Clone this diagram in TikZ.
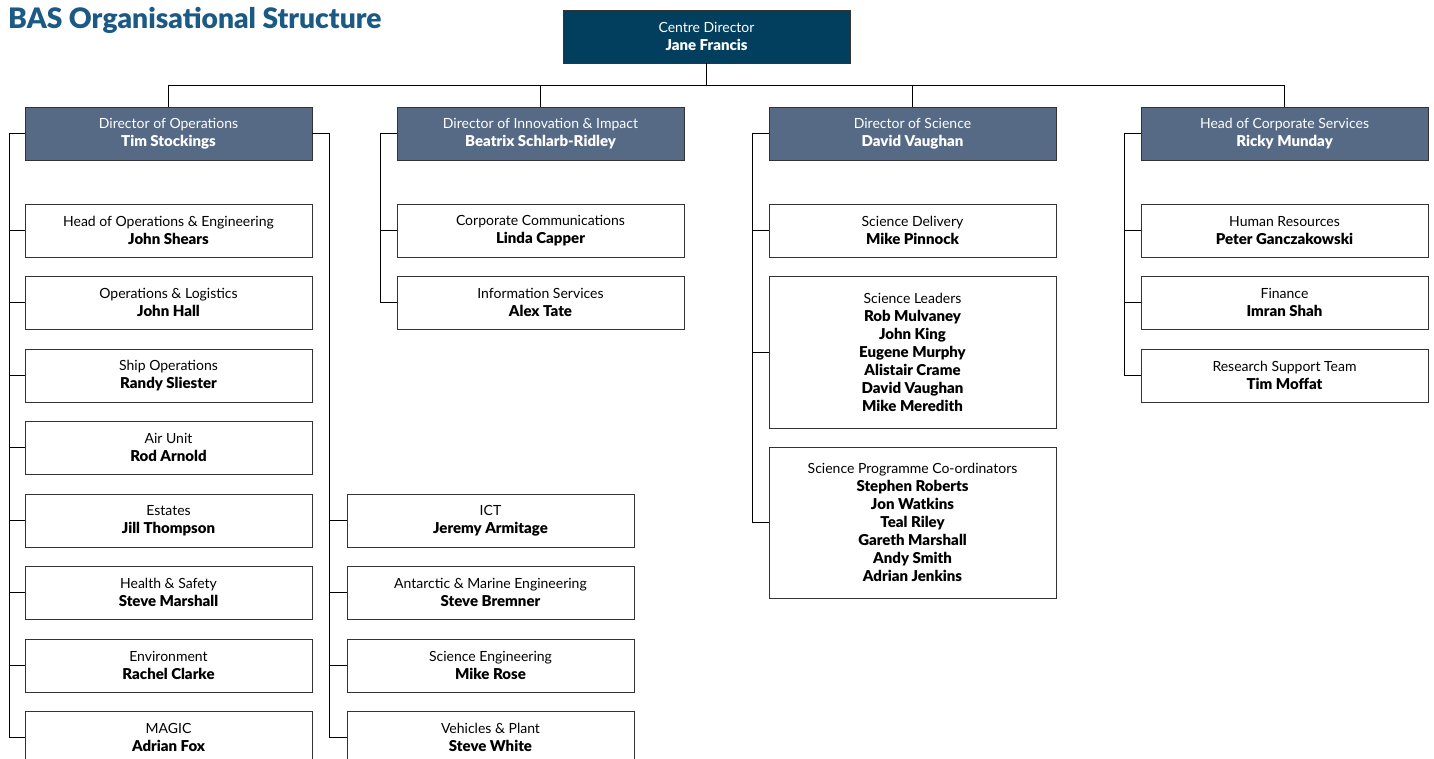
\documentclass[tikz,border=0pt]{standalone}
\usepackage{fontspec}
\setmainfont{Lato}[BoldFont={Lato Black}]
\definecolor{titleblue}{HTML}{1B5A84}
\definecolor{topfill}{HTML}{023F5F}
\definecolor{dirfill}{HTML}{566A86}
\definecolor{boxline}{HTML}{333333}
\newcommand{\nm}[1]{{\fontsize{15}{18}\bfseries\selectfont #1}}
\begin{document}
\begin{tikzpicture}[x=1pt,y=-1pt,
  base/.style={rectangle, draw=boxline, line width=0.9pt, minimum width=287pt, inner sep=0pt, align=center,
    font=\fontsize{14}{18}\selectfont},
  topbox/.style={base, fill=topfill, text=white, minimum height=53pt},
  dirbox/.style={base, fill=dirfill, text=white, minimum height=53pt},
  unit/.style={base, fill=white, text=black, minimum height=53pt},
  conn/.style={draw=black, line width=0.9pt}]
\useasboundingbox (0,0) rectangle (1434,758);
\node[anchor=north west, inner sep=0pt, text=titleblue, font=\fontsize{28.2}{30}\bfseries\selectfont] (title) at (8,7) {BAS Organisational Structure};

\node[topbox] (cd) at (706.5,36.5) {Centre Director\\\nm{Jane Francis}};

\node[dirbox] (ops) at (168.5,133.5) {Director of Operations\\\nm{Tim Stockings}};
\node[dirbox] (inn) at (540.5,133.5) {Director of Innovation \& Impact\\\nm{Beatrix Schlarb-Ridley}};
\node[dirbox] (sci) at (912.5,133.5) {Director of Science\\\nm{David Vaughan}};
\node[dirbox] (corp) at (1284.5,133.5) {Head of Corporate Services\\\nm{Ricky Munday}};

% Operations left column
\node[unit] (o1) at (168.5,230.5) {Head of Operations \& Engineering\\\nm{John Shears}};
\node[unit] (o2) at (168.5,302.5) {Operations \& Logistics\\\nm{John Hall}};
\node[unit] (o3) at (168.5,375.5) {Ship Operations\\\nm{Randy Sliester}};
\node[unit] (o4) at (168.5,447.5) {Air Unit\\\nm{Rod Arnold}};
\node[unit] (o5) at (168.5,520.5) {Estates\\\nm{Jill Thompson}};
\node[unit] (o6) at (168.5,592.5) {Health \& Safety\\\nm{Steve Marshall}};
\node[unit] (o7) at (168.5,665.5) {Environment\\\nm{Rachel Clarke}};
\node[unit] (o8) at (168.5,737.5) {MAGIC\\\nm{Adrian Fox}};

% Operations right column
\node[unit] (p1) at (490.5,520.5) {ICT\\\nm{Jeremy Armitage}};
\node[unit] (p2) at (490.5,592.5) {Antarctic \& Marine Engineering\\\nm{Steve Bremner}};
\node[unit] (p3) at (490.5,665.5) {Science Engineering\\\nm{Mike Rose}};
\node[unit] (p4) at (490.5,737.5) {Vehicles \& Plant\\\nm{Steve White}};

% Innovation
\node[unit] (i1) at (540.5,230.5) {Corporate Communications\\\nm{Linda Capper}};
\node[unit] (i2) at (540.5,302.5) {Information Services\\\nm{Alex Tate}};

% Science
\node[unit] (s1) at (912.5,230.5) {Science Delivery\\\nm{Mike Pinnock}};
\node[unit, minimum height=152pt] (s2) at (912.5,352) {Science Leaders\\\nm{Rob Mulvaney}\\\nm{John King}\\\nm{Eugene Murphy}\\\nm{Alistair Crame}\\\nm{David Vaughan}\\\nm{Mike Meredith}};
\node[unit, minimum height=151pt] (s3) at (912.5,522.5) {Science Programme Co-ordinators\\\nm{Stephen Roberts}\\\nm{Jon Watkins}\\\nm{Teal Riley}\\\nm{Gareth Marshall}\\\nm{Andy Smith}\\\nm{Adrian Jenkins}};

% Corporate
\node[unit] (c1) at (1284.5,230.5) {Human Resources\\\nm{Peter Ganczakowski}};
\node[unit] (c2) at (1284.5,302.5) {Finance\\\nm{Imran Shah}};
\node[unit] (c3) at (1284.5,375.5) {Research Support Team\\\nm{Tim Moffat}};

% Top-level connectors
\coordinate (hb) at (706.5,85);
\draw[conn] (cd.south) -- (hb);
\draw[conn] (ops.north) -- (ops.north |- hb) -- (corp.north |- hb) -- (corp.north);
\draw[conn] (inn.north) -- (inn.north |- hb);
\draw[conn] (sci.north) -- (sci.north |- hb);

% Operations buses
\coordinate (opsL) at (9,133.5);
\coordinate (opsR) at (329,133.5);
\draw[conn] (ops.west) -- (opsL) |- (o8.west);
\foreach \c in {o1,o2,o3,o4,o5,o6,o7} \draw[conn] (\c.west) -- (\c.west -| opsL);
\draw[conn] (ops.east) -- (opsR) |- (p4.west);
\foreach \c in {p1,p2,p3} \draw[conn] (\c.west) -- (\c.west -| opsR);

% Innovation bus
\coordinate (innL) at (380,133.5);
\draw[conn] (inn.west) -- (innL) |- (i2.west);
\draw[conn] (i1.west) -- (i1.west -| innL);

% Science bus
\coordinate (sciL) at (752,133.5);
\draw[conn] (sci.west) -- (sciL) |- (s3.west);
\foreach \c in {s1,s2} \draw[conn] (\c.west) -- (\c.west -| sciL);

% Corporate bus
\coordinate (corpL) at (1124,133.5);
\draw[conn] (corp.west) -- (corpL) |- (c3.west);
\foreach \c in {c1,c2} \draw[conn] (\c.west) -- (\c.west -| corpL);
\end{tikzpicture}
\end{document}
